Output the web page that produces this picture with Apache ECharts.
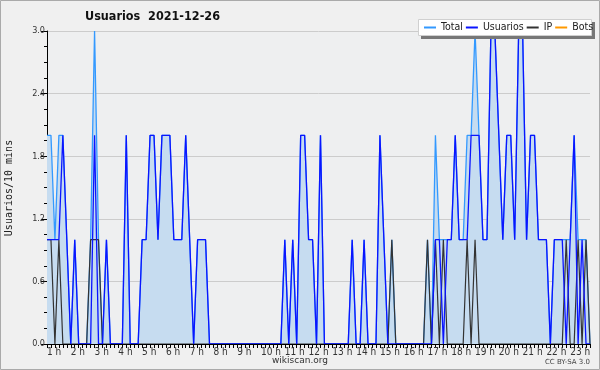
<!DOCTYPE html>
<html><head><meta charset="utf-8">
<script src="https://cdn.jsdelivr.net/npm/echarts@6/dist/echarts.min.js"></script>
<style>html,body{margin:0;padding:0;background:#f0f0f0}#c{width:600px;height:370px}</style>
</head><body><div id="c"></div>
<script>
var hourLabels = ["1 h","2 h","3 h","4 h","5 h","6 h","7 h","8 h","9 h","10 h","11 h","12 h","13 h","14 h","15 h","16 h","17 h","18 h","19 h","20 h","21 h","22 h","23 h"];
var yTicks = [0, 0.6, 1.2, 1.8, 2.4, 3.0];
var usuarios = [
1,1,1,1,2,1,0,1,0,0, 0,0,2,0,0,1,0,0,0,0,
2,0,0,0,1,1,2,2,1,2, 2,2,1,1,1,2,1,0,1,1,
1,0,0,0,0,0,0,0,0,0, 0,0,0,0,0,0,0,0,0,0,
1,0,1,0,2,2,1,1,0,2, 0,0,0,0,0,0,0,1,0,0,
1,0,0,0,2,1,0,0,0,0, 0,0,0,0,0,0,0,0,1,1,
0,1,1,2,1,1,1,2,2,2, 1,1,3,3,2,1,2,2,1,3,
3,1,2,2,1,1,1,0,1,1, 1,0,1,2,0,1,0,0];
var ip = [
1,1,0,1,0,0,0,0,0,0, 0,1,1,1,0,0,0,0,0,0,
0,0,0,0,0,0,0,0,0,0, 0,0,0,0,0,0,0,0,0,0,
0,0,0,0,0,0,0,0,0,0, 0,0,0,0,0,0,0,0,0,0,
0,0,0,0,0,0,0,0,0,0, 0,0,0,0,0,0,0,0,0,0,
0,0,0,0,0,0,0,1,0,0, 0,0,0,0,0,0,1,0,1,0,
1,0,0,0,0,0,1,0,1,0, 0,0,0,0,0,0,0,0,0,0,
0,0,0,0,0,0,0,0,0,0, 0,1,0,0,1,0,1,0];
var bots = [
0,0,0,0,0,0,0,0,0,0, 0,0,0,0,0,0,0,0,0,0,
0,0,0,0,0,0,0,0,0,0, 0,0,0,0,0,0,0,0,0,0,
0,0,0,0,0,0,0,0,0,0, 0,0,0,0,0,0,0,0,0,0,
0,0,0,0,0,0,0,0,0,0, 0,0,0,0,0,0,0,0,0,0,
0,0,0,0,0,0,0,0,0,0, 0,0,0,0,0,0,0,0,0,0,
0,0,0,0,0,0,0,0,0,0, 0,0,0,0,0,0,0,0,0,0,
0,0,0,0,0,0,0,0,0,0, 0,0,0,0,0,0,0,0];
var total = usuarios.map(function(v, i){ return v + ip[i] + bots[i]; });
var categories = usuarios.map(function(v, i){ return hourLabels[Math.floor(i/6)] + " " + (i%6)*10; });

var chart = echarts.init(document.getElementById('c'), null, {renderer:'canvas'});
var font = '"DejaVu Sans Condensed", "DejaVu Sans"';
chart.setOption({
  animation: false,
  backgroundColor: '#f0f0f0',
  title: {text: 'Usuarios  2021-12-26', left: 85, top: 10, padding: 0,
    textStyle: {fontFamily: font, fontWeight: 'bold', fontSize: 12.5, color: '#111'}},
  legend: {
    left: 424, top: 22, z: 30, width: 180, padding: 0,
    itemGap: 3, itemWidth: 12, itemHeight: 2,
    icon: 'rect',
    textStyle: {fontFamily: font, fontSize: 10.5, color: '#222'},
    data: ['Total', 'Usuarios', 'IP', 'Bots']
  },
  graphic: [
    {type: 'rect', z: 20, shape: {x: 421, y: 22, width: 174, height: 17}, style: {fill: '#777'}},
    {type: 'rect', z: 21, shape: {x: 418.5, y: 19.5, width: 173, height: 16}, style: {fill: '#fff', stroke: '#d0d0d0', lineWidth: 1}},
    {type: 'rect', z: -1, silent: true, shape: {x: 0.5, y: 0.5, width: 599, height: 369}, style: {fill: 'none', stroke: '#aaaaaa', lineWidth: 1}},
    {type: 'text', x: 9, y: 188, rotation: Math.PI/2, style: {text: 'Usuarios/10 mins', font: '10px "DejaVu Sans Mono"', fill: '#222', textAlign: 'center', textVerticalAlign: 'middle'}},
    {type: 'text', x: 300, y: 361, style: {text: 'wikiscan.org', font: '9px "DejaVu Sans"', fill: '#333', textAlign: 'center', textVerticalAlign: 'middle'}},
    {type: 'text', x: 590, y: 362, style: {text: 'CC BY-SA 3.0', font: '7px "DejaVu Sans"', fill: '#444', textAlign: 'right', textVerticalAlign: 'middle'}}
  ],
  grid: {left: 47, right: 10, top: 31, bottom: 26, show: true, backgroundColor: '#eeeff0', borderWidth: 0},
  xAxis: {
    type: 'category', data: categories, boundaryGap: false, z: 5,
    axisLine: {lineStyle: {color: '#000', width: 1}},
    axisTick: {interval: 0, length: 4, lineStyle: {color: '#000'}},
    axisLabel: {interval: 5, align: 'left', margin: 3, fontFamily: font, fontSize: 10, color: '#333',
      formatter: function(v, i){ return hourLabels[Math.floor(i/6)]; }},
    splitLine: {show: false}
  },
  yAxis: {
    type: 'value', min: yTicks[0], max: yTicks[yTicks.length-1], interval: 0.6,
    axisLine: {show: true, lineStyle: {color: '#000'}},
    axisTick: {show: true, length: 6, lineStyle: {color: '#000'}},
    minorTick: {show: true, splitNumber: 4, length: 3, lineStyle: {color: '#000'}},
    axisLabel: {fontFamily: font, fontSize: 9, color: '#333', margin: 2, formatter: function(v){ return v.toFixed(1); }},
    splitLine: {show: true, lineStyle: {color: '#cccccc', width: 1}}
  },
  series: [
    {name: 'Bots', type: 'line', data: bots, symbol: 'none', z: 1, lineStyle: {color: '#ff9900', width: 1.2}, itemStyle: {color: '#ff9900'}},
    {name: 'Total', type: 'line', data: total, symbol: 'none', z: 2, lineStyle: {color: '#3399ff', width: 1.3}, itemStyle: {color: '#3399ff'},
      areaStyle: {color: '#c6dcf0', opacity: 1}},
    {name: 'IP', type: 'line', data: ip, symbol: 'none', z: 3, lineStyle: {color: '#333333', width: 1.2}, itemStyle: {color: '#333333'}},
    {name: 'Usuarios', type: 'line', data: usuarios, symbol: 'none', z: 4, lineStyle: {color: '#0a14ff', width: 1.3}, itemStyle: {color: '#0a14ff'}}
  ]
});
</script></body></html>
